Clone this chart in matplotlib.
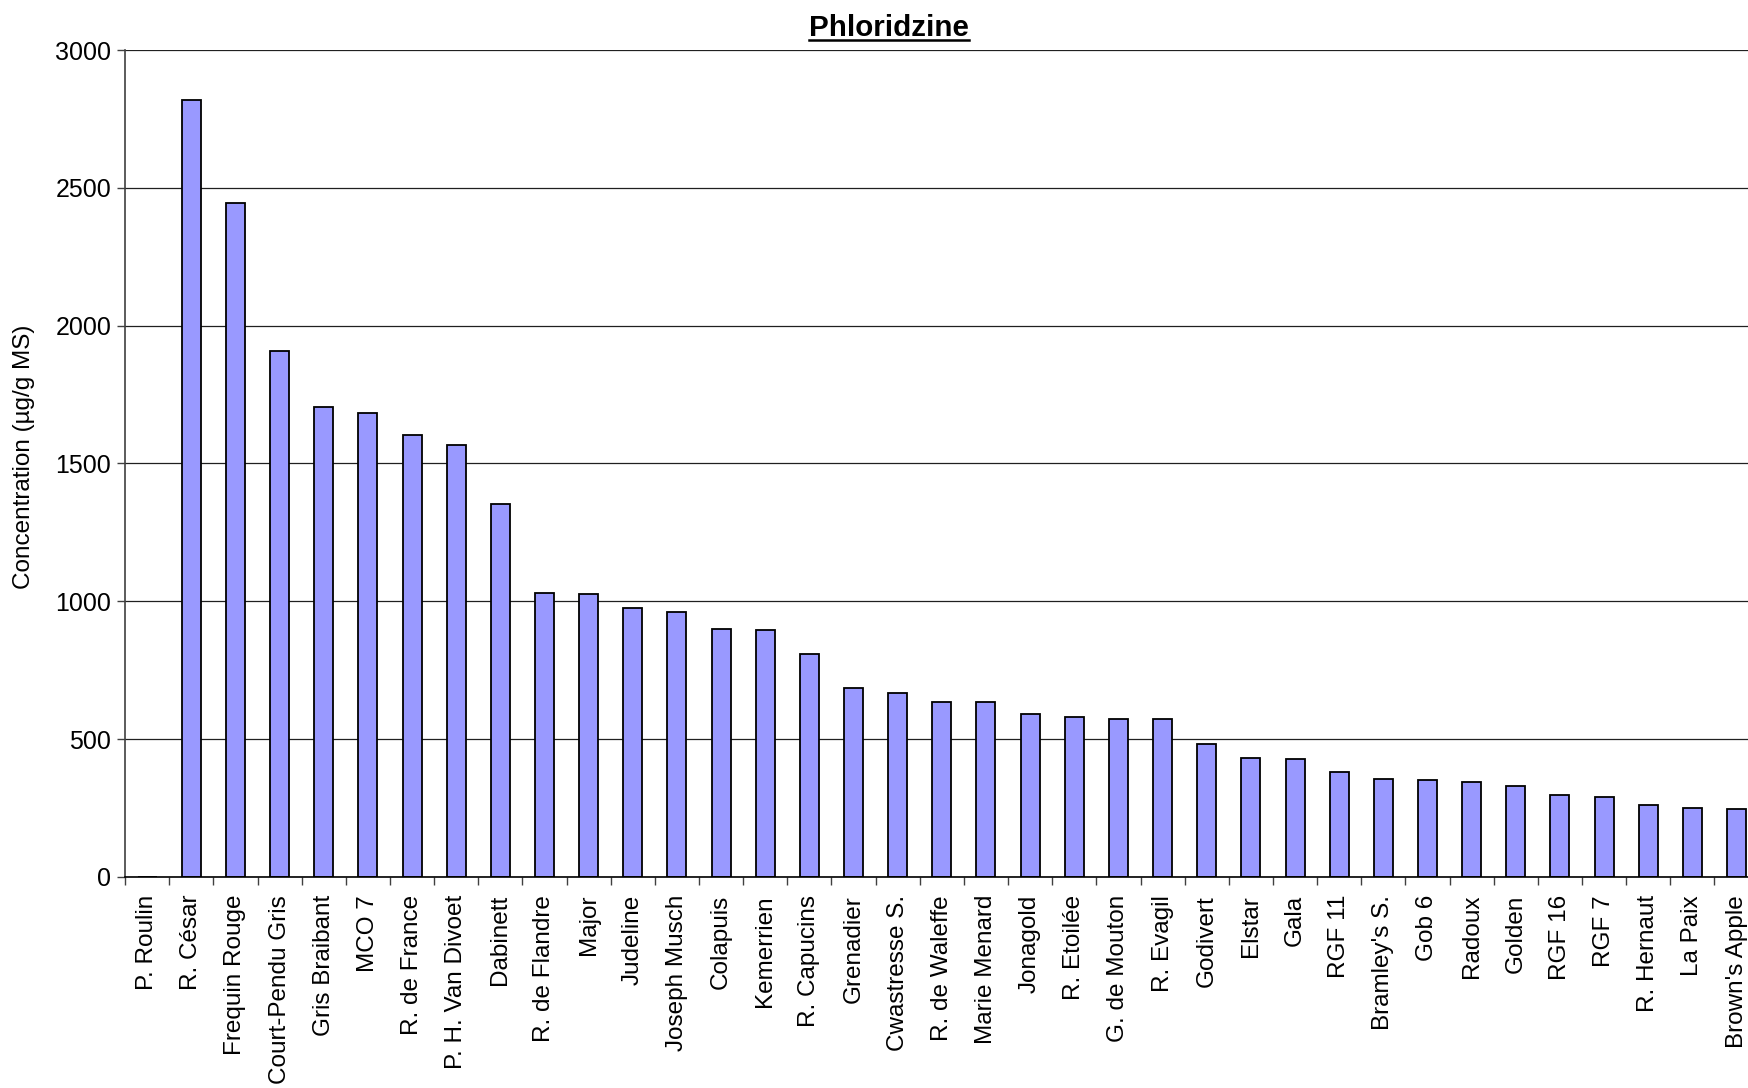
import numpy as np
import matplotlib
matplotlib.use("Agg")
import matplotlib.pyplot as plt
from matplotlib.lines import Line2D

plt.rcParams["font.family"] = ["Liberation Sans", "DejaVu Sans"]

# ── Données : phloridzine par variété (µg/g MS) ─────────────────────────
VARIETES = [
    "P. Roulin", "R. César", "Frequin Rouge", "Court-Pendu Gris", "Gris Braibant",
    "MCO 7", "R. de France", "P. H. Van Divoet", "Dabinett", "R. de Flandre",
    "Major", "Judeline", "Joseph Musch", "Colapuis", "Kemerrien",
    "R. Capucins", "Grenadier", "Cwastresse S.", "R. de Waleffe", "Marie Menard",
    "Jonagold", "R. Etoilée", "G. de Mouton", "R. Evagil", "Godivert",
    "Elstar", "Gala", "RGF 11", "Bramley's S.", "Gob 6",
    "Radoux", "Golden", "RGF 16", "RGF 7", "R. Hernaut",
    "La Paix", "Brown's Apple",
]
PHLORIDZINE = [
    0, 2818, 2446, 1907, 1705,
    1684, 1603, 1567, 1352, 1031,
    1027, 976, 962, 900, 897,
    808, 686, 668, 635, 633,
    592, 580, 572, 572, 482,
    430, 427, 382, 355, 351,
    343, 331, 298, 290, 262,
    251, 246,
]
Y_TICKS = [0, 500, 1000, 1500, 2000, 2500, 3000]
# ───────────────────────────────────────────────────────────────────────

W, H = 1749, 1088
fig = plt.figure(figsize=(W / 100, H / 100), dpi=100)
# zone de tracé plus large que la figure : la dernière colonne est rognée
ax = fig.add_axes([0.0715, 0.194, 0.934, 0.760])

x = np.arange(len(VARIETES))
ax.bar(x, PHLORIDZINE, width=0.43, color="#9999FF",
       edgecolor="black", linewidth=1.3, zorder=3)

ax.set_xlim(-0.5, len(VARIETES) - 0.5)
ax.set_ylim(0, 3000)

# graduations entre les barres, étiquettes au centre
ax.set_xticks(x)
ax.set_xticklabels(VARIETES, rotation=90, fontsize=17.5)
ax.tick_params(axis="x", which="major", length=0, pad=13)
ax.set_xticks(np.arange(-0.5, len(VARIETES)), minor=True)
ax.tick_params(axis="x", which="minor", length=6, width=1, color="#404040")

ax.set_yticks(Y_TICKS)
ax.tick_params(axis="y", length=6, width=1, labelsize=18, pad=4, color="#404040")
ax.yaxis.grid(True, color="#202020", linewidth=0.9, zorder=0)

for side in ("top", "right"):
    ax.spines[side].set_visible(False)
ax.spines["left"].set_color("#404040")
ax.spines["left"].set_linewidth(1.2)
ax.spines["bottom"].set_color("black")
ax.spines["bottom"].set_linewidth(1.2)
ax.spines["bottom"].set_zorder(4)

fig.text(24.5 / W, 1 - 457 / H, "Concentration (µg/g MS)",
         rotation=90, ha="center", va="center", fontsize=17.5)

# titre gras souligné
titre = fig.text(889 / W, 1 - 36 / H, "Phloridzine",
                 ha="center", va="baseline", fontsize=21.3, fontweight="bold")
fig.canvas.draw()
bb = titre.get_window_extent().transformed(fig.transFigure.inverted())
y_sous = 1 - 40 / H
fig.add_artist(Line2D([bb.x0, bb.x1], [y_sous, y_sous],
                      transform=fig.transFigure, color="black", linewidth=1.8))

fig.savefig("out.png", dpi=100)
